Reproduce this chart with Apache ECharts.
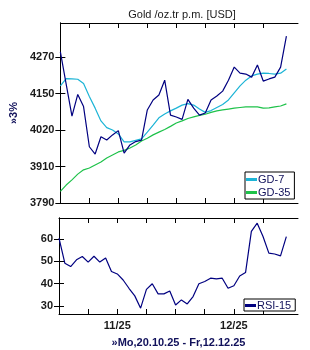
<!DOCTYPE html>
<html>
<head>
<meta charset="utf-8">
<script src="https://cdn.jsdelivr.net/npm/echarts@6/dist/echarts.min.js"></script>
<style>
html,body{margin:0;padding:0;background:#fff;}
#c{width:310px;height:350px;}
</style>
</head>
<body>
<div id="c"></div>
<script>
// Trading days Mo 20.10.25 - Fr 12.12.25 (index 0..39)
var dates = ["20.10","21.10","22.10","23.10","24.10","27.10","28.10","29.10","30.10","31.10",
  "03.11","04.11","05.11","06.11","07.11","10.11","11.11","12.11","13.11","14.11",
  "17.11","18.11","19.11","20.11","21.11","24.11","25.11","26.11","27.11","28.11",
  "01.12","02.12","03.12","04.12","05.12","08.12","09.12","10.12","11.12","12.12"];
var price = [4287,4181,4076,4147,4107,3975,3951,4008,3997,4014,
  4028,3954,3981,3992,3997,4096,4129,4145,4194,4079,
  4073,4065,4131,4102,4079,4086,4129,4142,4158,4194,
  4237,4217,4214,4204,4244,4191,4198,4204,4237,4339];
var gd7 = [4175,4199,4198,4197,4183,4140,4102,4060,4038,4030,
  4017,3991,3991,3996,4001,4023,4046,4070,4083,4093,
  4102,4112,4117,4112,4099,4088,4094,4104,4114,4129,
  4152,4175,4194,4208,4214,4217,4216,4214,4217,4231];
var gd35 = [3828,3849,3866,3885,3899,3905,3915,3925,3938,3948,
  3958,3963,3971,3981,3994,4003,4014,4023,4032,4042,
  4053,4060,4068,4073,4078,4082,4088,4093,4096,4099,
  4102,4104,4106,4106,4106,4102,4103,4106,4109,4116];
var rsi15 = [60.3,49.1,47.6,50.6,52.1,49.6,52.2,49.6,51.4,45.4,
  44.3,41.6,37.9,34.5,29.0,37.4,39.9,35.4,35.4,36.7,
  30.4,32.7,30.9,34.2,39.9,40.9,42.4,42.1,42.4,37.9,
  39.0,43.4,44.9,63.3,67.0,61.0,53.6,53.2,52.4,61.0];

var priceTickValues = [3790,3910,4030,4150,4270];
var priceTickLabels = ["3790","3910","4020","4150","4270"];
var rsiTickValues = [30,40,50,60];
var rsiTickLabels = ["30","40","50","60"];
var xTickValues = [5,10,15,20,25,30,35];
var xLabelValues = [10,30];
var xLabelTexts = ["11/25","12/25"];

function pairs(arr){ return arr.map(function(v,i){ return [i,v]; }); }

var FONT = "'Liberation Sans', Arial, sans-serif";
var tickLabelStyle = {fontFamily: FONT, fontSize: 11, fontWeight: 'bold', color: '#1a1a1a'};

function xAxisDef(grid, pos, showLabels){
  return {
    type: 'value', gridIndex: grid, position: pos, min: 0, max: 41,
    axisLine: {show: true, lineStyle: {color: '#000', width: 1}},
    axisTick: {show: true, inside: true, length: 5, customValues: xTickValues, lineStyle: {color: '#000'}},
    axisLabel: showLabels ? Object.assign({
      show: true, margin: 6, customValues: xLabelValues,
      formatter: function(v){ var k = xLabelValues.indexOf(Math.round(v)); return k >= 0 ? xLabelTexts[k] : ''; }
    }, tickLabelStyle) : {show: false},
    splitLine: {show: false}
  };
}
function yAxisDef(grid, pos, min, max, tv, tl, showLabels, extra){
  var a = {
    type: 'value', gridIndex: grid, position: pos, min: min, max: max,
    axisLine: {show: true, lineStyle: {color: '#000', width: 1}},
    axisTick: {show: true, inside: true, length: 5, customValues: tv, lineStyle: {color: '#000'}},
    axisLabel: showLabels ? Object.assign({
      show: true, margin: 6, customValues: tv,
      formatter: function(v){
        for (var k = 0; k < tv.length; k++) { if (Math.abs(tv[k]-v) < 1e-6) return tl[k]; }
        return '';
      }
    }, tickLabelStyle) : {show: false},
    splitLine: {show: false}
  };
  return Object.assign(a, extra || {});
}

var chart = echarts.init(document.getElementById('c'), null, {renderer: 'canvas'});
chart.setOption({
  animation: false,
  backgroundColor: '#fff',
  title: {
    text: 'Gold /oz.tr p.m. [USD]', left: 177, top: 4, textAlign: 'center',
    textStyle: {fontFamily: FONT, fontSize: 11, fontWeight: 'normal', color: '#1a1a1a'}
  },
  grid: [
    {left: 59, top: 23, width: 239, height: 180, show: false},
    {left: 59, top: 218, width: 239, height: 96, show: false}
  ],
  legend: [
    {
      data: ['GD-7', 'GD-35'], orient: 'vertical', left: 245, top: 172,
      backgroundColor: '#fff', borderColor: '#000', borderWidth: 1, borderRadius: 0,
      padding: [2, 4, 1, 1], itemGap: 2, itemWidth: 11, itemHeight: 3, icon: 'rect',
      textStyle: {fontFamily: FONT, fontSize: 11, color: '#10105a', padding: [0, 0, 0, -4]}
    },
    {
      data: ['RSI-15'], orient: 'vertical', left: 244, top: 299,
      backgroundColor: '#fff', borderColor: '#000', borderWidth: 1, borderRadius: 0,
      padding: [1, 4, 0, 1], itemGap: 2, itemWidth: 11, itemHeight: 3, icon: 'rect',
      textStyle: {fontFamily: FONT, fontSize: 11, color: '#10105a', padding: [0, 0, 0, -4]}
    }
  ],
  xAxis: [
    xAxisDef(0, 'bottom', false),
    xAxisDef(0, 'top', false),
    Object.assign(xAxisDef(1, 'bottom', true), {
      name: '»Mo,20.10.25 - Fr,12.12.25', nameLocation: 'middle', nameGap: 23,
      nameTextStyle: {fontFamily: FONT, fontSize: 11, fontWeight: 'bold', color: '#10105a'}
    }),
    xAxisDef(1, 'top', false)
  ],
  yAxis: [
    yAxisDef(0, 'left', 3790, 4382, priceTickValues, priceTickLabels, true, {
      name: '»3%', nameLocation: 'middle', nameRotate: 90, nameGap: 30,
      nameTextStyle: {fontFamily: FONT, fontSize: 11, fontWeight: 'bold', color: '#10105a'}
    }),
    yAxisDef(0, 'right', 3790, 4382, priceTickValues, priceTickLabels, false),
    yAxisDef(1, 'left', 26.4, 69.3, rsiTickValues, rsiTickLabels, true),
    yAxisDef(1, 'right', 26.4, 69.3, rsiTickValues, rsiTickLabels, false)
  ],
  series: [
    {name: 'GD-35', type: 'line', xAxisIndex: 0, yAxisIndex: 0, data: pairs(gd35),
     showSymbol: false, symbol: 'none', lineStyle: {color: '#1ec24a', width: 1.2}, itemStyle: {color: '#1ec24a'}},
    {name: 'GD-7', type: 'line', xAxisIndex: 0, yAxisIndex: 0, data: pairs(gd7),
     showSymbol: false, symbol: 'none', lineStyle: {color: '#1cb4d6', width: 1.2}, itemStyle: {color: '#1cb4d6'}},
    {name: 'Gold', type: 'line', xAxisIndex: 0, yAxisIndex: 0, data: pairs(price),
     showSymbol: false, symbol: 'none', lineStyle: {color: '#000080', width: 1.2}, itemStyle: {color: '#000080'}},
    {name: 'RSI-15', type: 'line', xAxisIndex: 2, yAxisIndex: 2, data: pairs(rsi15),
     showSymbol: false, symbol: 'none', lineStyle: {color: '#000080', width: 1.2}, itemStyle: {color: '#000080'}}
  ]
});
</script>
</body>
</html>
